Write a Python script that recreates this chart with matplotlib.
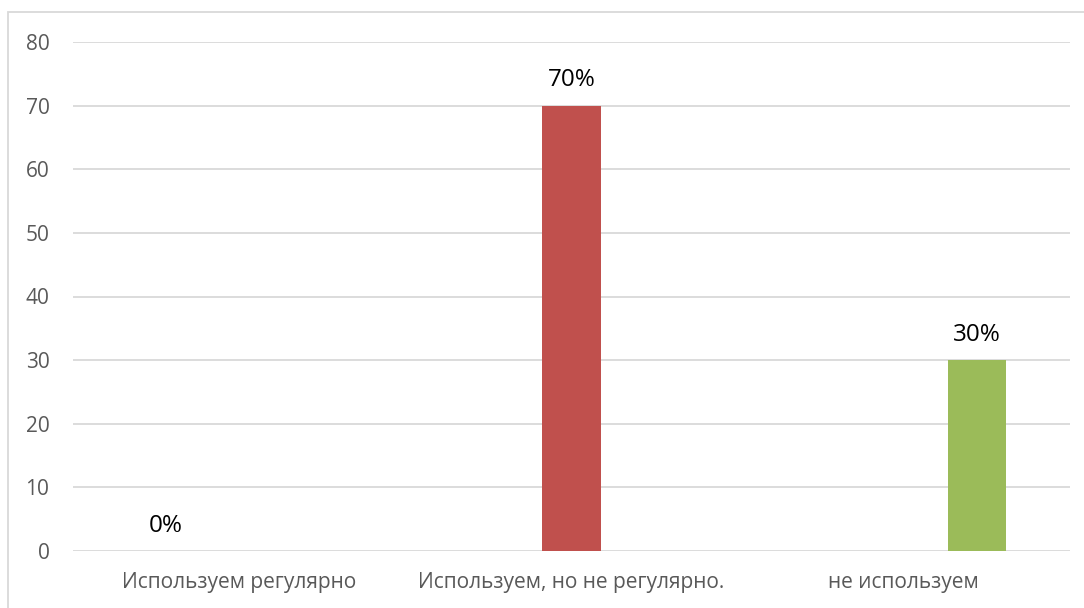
import matplotlib.pyplot as plt
from matplotlib.patches import Rectangle
import numpy as np

# === DATA ===
categories = ["Используем регулярно", "Используем, но не регулярно.", "не используем"]
series_values = [
    [0, 0, 0],    # series 1 (blue)
    [0, 70, 0],   # series 2 (red)
    [0, 0, 30],   # series 3 (green)
]
series_colors = ["#4F81BD", "#C0504D", "#9BBB59"]
# which (series, category) pairs carry a data label
labels = [(0, 0, "0%"), (1, 1, "70%"), (2, 2, "30%")]
yticks = [0, 10, 20, 30, 40, 50, 60, 70, 80]

plt.rcParams['font.family'] = ['Open Sans', 'DejaVu Sans']

fig = plt.figure(figsize=(10.84, 6.08), dpi=100)
ax = fig.add_axes([73 / 1084, 1 - 551 / 608, (1070 - 73) / 1084, (551 - 42) / 608])

# outer chart border
fig.patches.append(Rectangle((8 / 1084, -0.1), 1.2, 1 - 12 / 608 + 0.1,
                             transform=fig.transFigure, fill=False,
                             edgecolor="#D9D9D9", linewidth=1.3))

x = np.arange(len(categories)) + 0.5
offset = 73 / 332.3
bar_w = 58 / 332.3
for i, (vals, col) in enumerate(zip(series_values, series_colors)):
    ax.bar(x + (i - 1) * offset, vals, width=bar_w, color=col, zorder=3)

for s, c, txt in labels:
    ax.annotate(txt, (x[c] + (s - 1) * offset, series_values[s][c]),
                xytext=(0, 9.5), textcoords="offset points",
                ha="center", va="bottom", fontsize=17.5, color="black")

ax.set_xlim(0, 3)
ax.set_ylim(0, 80)
ax.set_yticks(yticks)
ax.set_xticks(x)
ax.set_xticklabels(categories)
ax.yaxis.grid(True, color="#D9D9D9", linewidth=1.3, zorder=0)
ax.set_axisbelow(True)
for sp in ax.spines.values():
    sp.set_visible(False)
ax.tick_params(axis="both", length=0, labelsize=15, labelcolor="#595959")
ax.tick_params(axis="y", pad=17)
ax.tick_params(axis="x", pad=15)

fig.savefig("out.png", dpi=100)
